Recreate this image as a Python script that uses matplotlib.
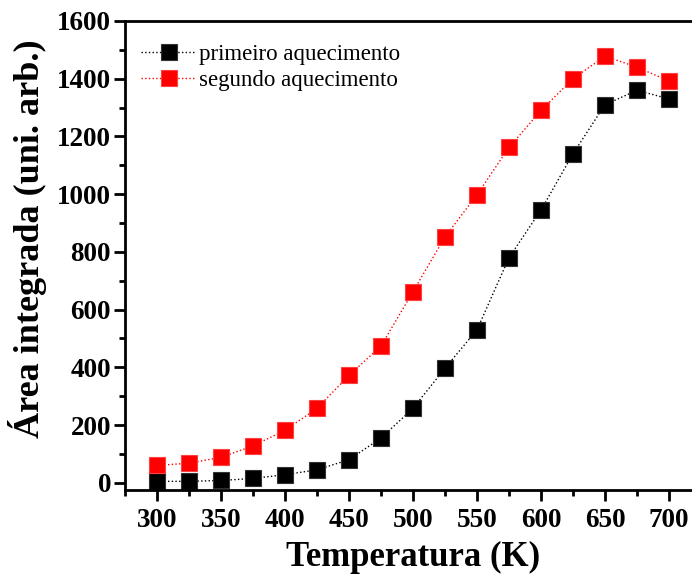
import matplotlib
matplotlib.use("Agg")
import matplotlib.pyplot as plt
from matplotlib.ticker import MultipleLocator

temperatura = [300, 325, 350, 375, 400, 425, 450, 475, 500, 525, 550, 575, 600, 625, 650, 675, 700]
primeiro = [5, 5, 8, 15, 28, 45, 80, 155, 258, 397, 530, 780, 945, 1140, 1310, 1360, 1330]
segundo = [60, 68, 88, 128, 182, 258, 372, 474, 662, 852, 998, 1162, 1290, 1400, 1478, 1440, 1392]

plt.rcParams['font.family'] = ['Liberation Serif', 'DejaVu Serif']

fig = plt.figure(figsize=(6.92, 5.75), dpi=100)
ax = fig.add_axes([125/692, 85/575, 576/692, 469/575])

ax.plot(temperatura, primeiro, linestyle=':', color='black', linewidth=1.0,
        marker='s', markersize=11.5, markerfacecolor='black', markeredgecolor='#333333',
        markeredgewidth=0.8, label='primeiro aquecimento')
ax.plot(temperatura, segundo, linestyle=':', color='red', linewidth=1.0,
        marker='s', markersize=11.5, markerfacecolor='#ff0000', markeredgecolor='#ff4040',
        markeredgewidth=0.8, label='segundo aquecimento')

ax.set_xlim(275, 725)
ax.set_ylim(-25, 1600)
ax.xaxis.set_major_locator(MultipleLocator(50))
ax.xaxis.set_minor_locator(MultipleLocator(25))
ax.yaxis.set_major_locator(MultipleLocator(200))
ax.yaxis.set_minor_locator(MultipleLocator(100))

for s in ax.spines.values():
    s.set_linewidth(2)
ax.spines['right'].set_visible(False)

ax.tick_params(which='major', direction='out', length=8, width=2, labelsize=19.5)
ax.tick_params(axis='y', which='major', pad=2)
ax.tick_params(axis='x', which='major', pad=5)
ax.tick_params(which='minor', direction='out', length=4, width=2)
for lab in ax.get_xticklabels() + ax.get_yticklabels():
    lab.set_fontweight('bold')

ax.set_xlabel('Temperatura (K)', fontsize=25, fontweight='bold', labelpad=6)
ax.set_ylabel('Área integrada (uni. arb.)', fontsize=26, fontweight='bold')
ax.yaxis.set_label_coords(-0.135, 0.535)

leg = ax.legend(loc='upper left', frameon=False, fontsize=16.5, handlelength=2.4,
                borderaxespad=0.3, handletextpad=0.15, labelspacing=0.22,
                bbox_to_anchor=(0.0, 0.985))

fig.savefig('out.png', dpi=100)
